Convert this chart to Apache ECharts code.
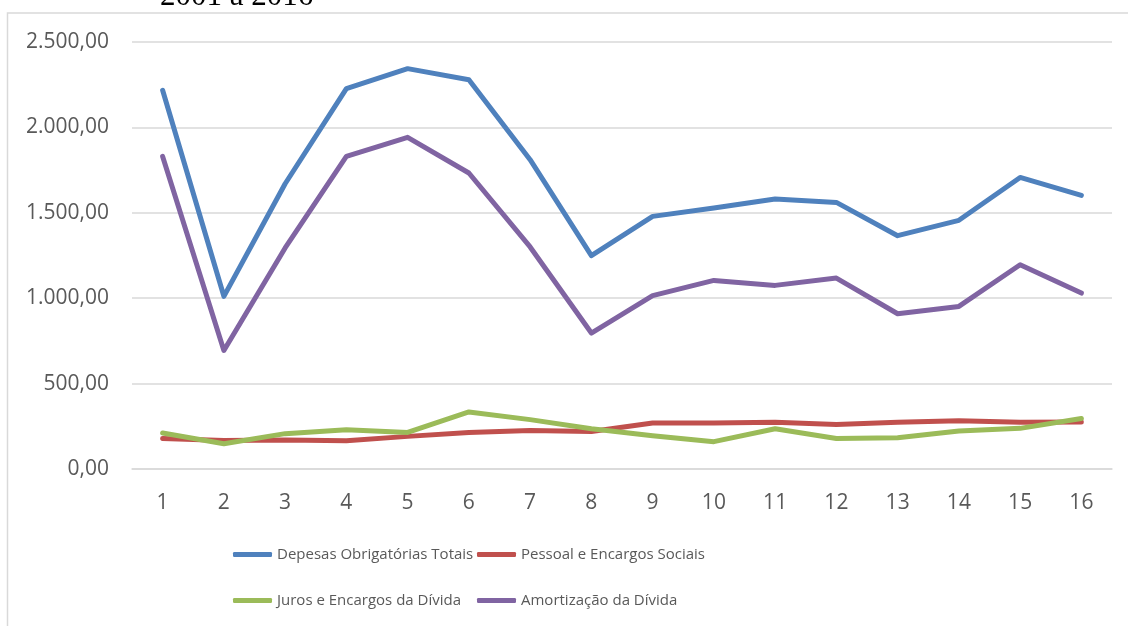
<!DOCTYPE html>
<html>
<head>
<meta charset="utf-8">
<style>
html,body{margin:0;padding:0;background:#fff;}
#chart{width:1128px;height:626px;}
</style>
<script src="https://cdn.jsdelivr.net/npm/echarts@6/dist/echarts.min.js"></script>
</head>
<body>
<div id="chart"></div>
<script>
var titleText = '2001 a 2016';
var categories = ['1','2','3','4','5','6','7','8','9','10','11','12','13','14','15','16'];
var seriesNames = ['Depesas Obrigatórias Totais','Pessoal e Encargos Sociais','Juros e Encargos da Dívida','Amortização da Dívida'];
var despesasTotais = [2217, 1011, 1670, 2227, 2344, 2279, 1811, 1249, 1479, 1528, 1581, 1561, 1366, 1456, 1707, 1602];
var pessoalEncargos = [179, 167, 170, 165, 191, 214, 226, 220, 269, 269, 273, 261, 273, 283, 273, 275];
var jurosEncargos = [211, 148, 207, 230, 214, 334, 289, 236, 195, 160, 236, 179, 183, 222, 238, 296];
var amortizacao = [1830, 694, 1294, 1830, 1942, 1733, 1300, 796, 1015, 1104, 1075, 1118, 909, 952, 1196, 1030];

var colors = ['#4f81bd','#c0504d','#9bbb59','#8064a2'];
var dataSets = [despesasTotais, pessoalEncargos, jurosEncargos, amortizacao];

function fmt(v){
  var s = Math.round(v).toString();
  s = s.replace(/\B(?=(\d{3})+(?!\d))/g, '.');
  return s + ',00';
}

var chart = echarts.init(document.getElementById('chart'), null, {renderer:'canvas'});

var legendFont = {fontFamily:"'Open Sans',sans-serif", fontSize:15, color:'#595959'};
function mkLegend(name, left, top){
  return {
    data:[name], left:left, top:top, padding:0, orient:'horizontal',
    icon:'roundRect', itemWidth:39, itemHeight:5, itemGap:0,
    textStyle:legendFont, selectedMode:false
  };
}

var option = {
  animation:false,
  backgroundColor:'#fff',
  color:colors,
  graphic:[
    {type:'rect', shape:{x:7.5, y:13, width:1300, height:800}, style:{fill:'none', stroke:'#d9d9d9', lineWidth:1.5}, silent:true, z:-1},
    {type:'text', left:160, top:-19, style:{text:titleText, font:"31px 'Liberation Serif', serif", fill:'#000'}, silent:true}
  ],
  grid:{left:132, right:16, top:42, bottom:157, containLabel:false},
  xAxis:{
    type:'category', data:categories, boundaryGap:true,
    axisLine:{show:true, lineStyle:{color:'#d9d9d9', width:1.5}},
    axisTick:{show:false},
    axisLabel:{color:'#595959', fontFamily:"'Open Sans',sans-serif", fontSize:21, margin:24}
  },
  yAxis:{
    type:'value', min:0, max:2500, interval:500,
    axisLine:{show:false}, axisTick:{show:false},
    splitLine:{lineStyle:{color:'#d9d9d9', width:1.5}},
    axisLabel:{color:'#595959', fontFamily:"'Open Sans',sans-serif", fontSize:21, margin:23, formatter:fmt}
  },
  legend:[
    mkLegend(seriesNames[0], 233, 547),
    mkLegend(seriesNames[1], 477, 547),
    mkLegend(seriesNames[2], 233, 593),
    mkLegend(seriesNames[3], 477, 593)
  ],
  series:seriesNames.map(function(n,i){
    return {
      name:n, type:'line', data:dataSets[i], symbol:'none', smooth:false,
      lineStyle:{color:colors[i], width:5, cap:'round', join:'round'},
      itemStyle:{color:colors[i]},
      z:2+i
    };
  })
};
chart.setOption(option);
</script>
</body>
</html>
